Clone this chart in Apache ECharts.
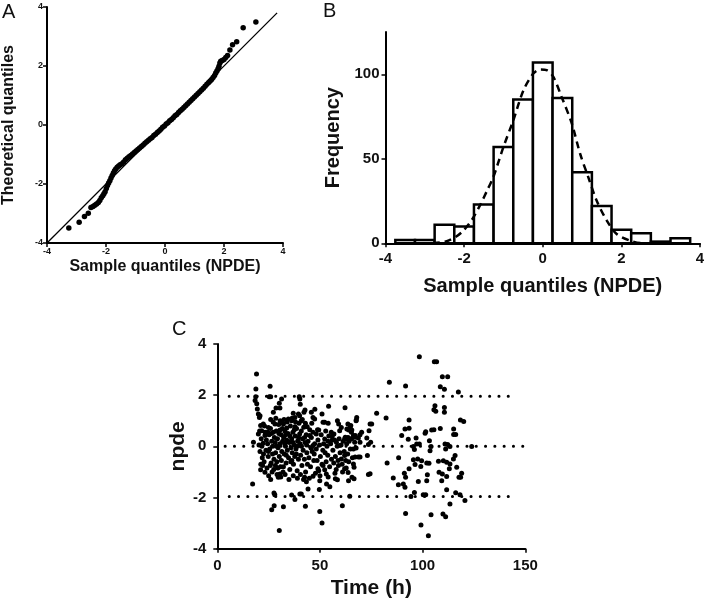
<!DOCTYPE html>
<html><head><meta charset="utf-8">
<script src="https://cdn.jsdelivr.net/npm/echarts@6/dist/echarts.min.js"></script>
<style>html,body{margin:0;padding:0;background:#fff}#c{width:709px;height:602px}</style>
</head><body><div id="c"></div>
<script>
// ---- Panel A: QQ plot (sample quantile, theoretical quantile) ----
const qqPoints = [
[-3.26,-3.49],[-2.91,-3.30],[-2.73,-3.10],[-2.60,-2.99],[-2.51,-2.80],[-2.44,-2.76],[-2.38,-2.72],[-2.32,-2.68],[-2.26,-2.63],[-2.21,-2.56],[-2.16,-2.47],[-2.11,-2.40],[-2.07,-2.33],[-2.03,-2.26],[-1.99,-2.15],[-1.95,-2.05],[-1.91,-1.97],[-1.87,-1.89],[-1.83,-1.80],[-1.79,-1.71],[-1.75,-1.63],[-1.71,-1.55],[-1.67,-1.49],[-1.62,-1.43],[-1.57,-1.39],[-1.52,-1.35],[-1.46,-1.31],[-1.40,-1.25],[-1.34,-1.18],[-1.28,-1.13],[-1.22,-1.08],[-1.16,-1.03],[-1.10,-0.98],[-1.04,-0.93],[-0.98,-0.88],[-0.92,-0.83],[-0.86,-0.78],[-0.80,-0.73],[-0.74,-0.68],[-0.68,-0.62],[-0.62,-0.57],[-0.56,-0.52],[-0.50,-0.47],[-0.44,-0.42],[-0.38,-0.36],[-0.32,-0.31],[-0.26,-0.25],[-0.20,-0.20],[-0.14,-0.14],[-0.08,-0.08],[-0.02,-0.03],[0.04,0.03],[0.10,0.08],[0.16,0.14],[0.22,0.19],[0.28,0.25],[0.34,0.31],[0.40,0.36],[0.46,0.42],[0.52,0.48],[0.58,0.53],[0.64,0.59],[0.70,0.65],[0.76,0.71],[0.82,0.77],[0.88,0.83],[0.94,0.89],[1.00,0.95],[1.06,1.01],[1.12,1.07],[1.18,1.13],[1.24,1.19],[1.30,1.25],[1.36,1.31],[1.42,1.38],[1.48,1.44],[1.53,1.49],[1.58,1.54],[1.63,1.61],[1.68,1.68],[1.72,1.76],[1.76,1.83],[1.80,1.91],[1.83,1.99],[1.86,2.10],[1.89,2.16],[1.94,2.19],[2.00,2.22],[2.06,2.29],[2.12,2.36],[2.20,2.54],[2.29,2.72],[2.43,2.82],[2.65,3.30],[3.08,3.49]
];
const qqLineX = [-4, 3.8];
const qqLineY = [-4, 3.8];

// ---- Panel B: histogram ----
const binCenters = [-3.5,-3,-2.5,-2,-1.5,-1,-0.5,0,0.5,1,1.5,2,2.5,3,3.5];
const binCounts  = [2,2,11,10,23,57,85,107,86,42,22,8,6,1,3];
const binWidth = 0.5;
const curveX = [-2.8,-2.6,-2.44,-2.2,-2.02,-1.8,-1.6,-1.4,-1.26,-1.0,-0.75,-0.49,-0.24,-0.07,0.10,0.27,0.48,0.74,0.95,1.16,1.37,1.63,1.88,2.22,2.56,2.8];
const curveY = [0,0.5,1.2,4,7.5,14,22.3,32,39,57,72.7,90.5,100.4,102.8,102.4,98.4,86.6,70.8,53,39,25.3,13.4,5.5,1.6,0,0];

// ---- Panel C: npde vs time ----
const npdePoints = [
[17.2,-1.47],[19.1,2.83],[18.8,2.24],[25.7,2.35],[18.7,1.94],[25.3,1.94],[26.0,1.94],[18.4,1.79],[19.2,1.66],[19.5,1.46],[20.0,1.26],[20.5,1.13],[27.3,1.33],[28.6,1.50],[30.2,1.68],[30.5,1.50],[31.3,1.85],[37.0,1.29],[37.8,1.13],[39.5,1.26],[39.9,1.94],[40.2,1.85],[40.4,1.65],[40.1,1.20],[42.2,1.33],[42.7,1.42],[45.8,1.33],[47.5,1.45],[51.0,1.26],[54.2,1.57],[62.2,1.51],
[27.6,-1.82],[28.0,-1.89],[36.2,-1.90],[37.8,-2.08],[40.2,-1.86],[40.9,-1.86],[27.7,-2.32],[26.5,-2.48],[32.2,-2.36],[42.9,-2.34],[49.9,-2.55],[51.0,-3.0],[30.2,-3.29],[60.9,-2.32],[64.5,-1.95],[54.8,-1.58],[44.2,-1.67],[49.7,-1.69],[53.2,-1.47],[49.9,-1.34],[58.5,-1.31],[57.5,-1.27],[65.6,-1.21],[66.6,-1.27],[42.5,-1.21],[43.4,-1.38],[46.6,-1.17],[63.7,-1.02],[62.0,-0.88],[53.1,-1.08],[52.3,-0.91],[49.0,-0.88],[51.5,-0.75],[60.4,-0.49],[62.0,-0.36],[21.1,-0.91],[23.2,-1.01],[22.1,-0.75],[26.0,-1.30],[29.7,-1.21],[30.5,-1.08],[63.9,-1.34],
[73.9,0.61],[72.8,0.33],[73.6,0.07],[74.7,0.16],[69.5,0.16],[73.1,-0.36],[74.4,-1.07],[73.6,-1.10],[69.5,-0.42],[67.9,1.13],[67.6,1.00],[66.3,0.42],[67.1,0.36],[64.7,0.74],[63.1,0.68],[65.5,0.64],[62.3,0.36],[63.9,0.33],[63.1,0.29],[68.7,0.33],[69.5,0.45],[66.3,-0.10],[67.6,-0.06],[67.1,-0.42],[68.7,-0.42],[66.3,-0.69],[66.6,-0.82],[70.3,0.55],[74.4,0.87],[75.2,0.87],[77.6,1.29],[82.2,1.11],
[58.5,1.00],[59.1,0.87],[63.6,0.87],[65.0,0.81],[67.7,1.03],[60.4,0.74],[59.6,0.61],[55.5,0.55],[56.8,0.48],[64.0,0.64],[65.3,0.55],[43.8,0.77],[40.9,1.00],[49.4,0.64],[48.2,0.48],[42.5,0.35],[45.0,0.42],[52.3,0.29],[53.9,0.20],[62.0,0.29],[63.6,0.35],[67.2,0.42],[40.1,0.48],[39.3,0.22],[58.0,0.16],[59.6,0.03],[66.9,0.16],[46.6,0.03],[45.8,-0.06],[47.4,1.07],[46.6,1.13],[52.3,0.94],[51.5,0.94],[54.0,0.90],
[20.8,1.20],[34.6,1.07],[36.2,1.00],[32.2,0.87],[28.1,0.87],[22.4,0.87],[21.1,0.81],[24.9,0.74],[21.6,0.61],[27.3,0.55],[30.5,0.64],[33.8,0.72],[37.8,0.77],[20.0,0.48],[23.2,0.42],[17.6,0.16],
[20.3,0.05],[20.8,-0.2],[21.4,0.3],[21.9,-0.45],[22.3,0.12],[22.8,-0.6],[23.3,0.55],[23.7,-0.15],[21.2,-0.7],[22.5,-0.3],[23.9,0.25],[20.6,0.6],[24.2,-0.85],[23.0,0.8],[21.7,0.0],
[24.5,0.1],[24.8,-0.4],[25.2,0.45],[25.5,-0.1],[25.9,0.7],[26.2,-0.65],[26.5,0.2],[26.9,-0.3],[27.2,0.95],[27.5,-0.9],[27.8,0.35],[25.0,-1.15],[26.0,1.05],[26.7,-1.0],[27.0,0.0],[24.6,0.55],[25.8,-0.75],[27.6,-0.5],[26.3,0.5],[24.9,-0.2],
[28.2,0.15],[28.4,-0.25],[28.7,0.6],[29.0,-0.6],[29.3,0.3],[29.6,-0.05],[29.9,0.85],[30.2,-0.4],[30.5,0.1],[30.8,-0.8],[31.1,0.45],[31.4,-0.2],[31.7,0.7],[32.0,-1.0],[28.5,1.1],[29.1,-1.1],[30.0,0.5],[31.2,-0.55],[28.9,0.0],[30.6,1.0],[31.8,0.2],[29.5,-0.85],[30.9,-1.2],[28.3,-0.75],[31.5,0.95],
[32.3,0.35],[32.6,-0.3],[32.9,0.6],[33.2,0.0],[33.5,-0.65],[33.8,0.25],[34.1,-0.15],[34.4,0.5],[34.7,-0.45],[35.0,0.15],[35.3,-0.9],[35.6,0.8],[35.9,-0.05],[32.5,1.05],[33.0,-1.1],[34.0,0.95],[34.9,-1.3],[35.4,0.4],[33.6,-0.35],[32.8,0.1],[35.8,-0.6],[34.3,0.2],[33.3,0.45],[32.2,-0.8],
[36.2,0.3],[36.5,-0.25],[36.8,0.55],[37.1,-0.7],[37.4,0.05],[37.7,-0.4],[38.0,0.4],[38.3,-0.1],[38.6,0.7],[38.9,-0.95],[39.2,0.2],[39.5,-0.5],[39.8,0.9],[36.4,1.1],[37.0,-1.15],[38.1,0.95],[39.0,-1.25],[36.9,0.15],[38.5,-0.3],[39.6,0.35],[37.5,0.65],[36.3,-0.55],[38.8,0.0],
[40.3,0.1],[40.6,-0.35],[40.9,0.6],[41.2,-0.75],[41.5,0.3],[41.8,-0.15],[42.1,0.75],[42.4,-0.5],[42.7,0.15],[43.0,-1.0],[43.3,0.45],[43.6,-0.25],[40.5,-1.1],[41.4,1.05],[42.9,0.9],[43.9,-0.7],[41.0,0.0],[42.0,-1.3],[43.5,0.05],
[44.2,0.2],[44.6,-0.45],[45.0,0.65],[45.4,-0.8],[45.8,0.35],[46.2,-0.2],[46.6,0.55],[47.0,-0.55],[47.4,0.1],[47.8,-1.05],[44.8,-1.25],[46.0,0.9],[47.2,-0.3],[45.6,-0.05],
[48.2,-0.1],[48.6,-0.55],[49.0,0.25],[49.4,-0.95],[49.8,0.05],[50.2,-0.4],[50.6,0.45],[51.0,-0.7],[51.4,-0.15],[51.8,0.1],[50.0,-1.15],[48.8,0.65],
[52.5,-0.25],[53.0,-0.6],[53.4,0.0],[53.8,-0.35],[54.3,0.4],[54.7,-0.8],[55.2,0.1],[55.6,-0.5],[52.8,0.6],[54.0,-1.2],[55.9,0.25],
[56.3,-0.15],[56.7,-0.65],[57.1,0.25],[57.5,-0.4],[57.9,-0.9],[58.4,0.0],[58.8,-0.55],[59.3,0.3],[59.8,-0.25],[57.3,-1.05],[56.0,0.4],[59.0,-0.75],
[60.3,0.05],[60.8,-0.7],[61.3,0.2],[61.8,-0.2],[62.5,-0.55],[63.0,0.1],[63.5,-0.3],[64.2,0.2],[64.8,-0.1],[65.4,0.3],[61.0,-1.0],[62.8,-0.85],[64.0,-0.6],[65.8,-0.45],
[98.4,3.50],[105.7,3.31],[106.8,3.31],[83.8,2.51],[91.7,2.36],[109.6,2.72],[112.2,2.72],[108.6,2.33],[110.6,2.23],[117.4,2.12],[106.0,1.59],[105.5,1.43],[106.4,1.37],[110.6,1.52],[110.6,1.33],[93.4,1.03],[118.4,1.03],[120.0,0.97],[91.4,0.68],[93.4,0.71],[101.5,0.57],[101.2,0.51],[104.4,0.64],[105.5,0.65],[108.6,0.70],[115.1,0.68],[89.8,0.42],[93.0,0.28],[96.8,0.33],[103.3,0.22],[115.1,0.46],[116.1,0.46],[97.1,0.09],[98.4,0.09],[95.5,-0.01],[96.0,-0.12],[104.1,-0.01],[103.6,-0.17],[110.9,0.09],[112.2,0.07],[113.3,-0.01],[111.2,-0.10],[123.9,-0.01],[88.3,-0.45],[82.7,-0.65],[95.5,-0.52],[97.6,-0.49],[99.5,-0.56],[102.0,-0.65],[103.1,-0.66],[96.3,-0.71],[99.1,-0.79],[107.7,-0.58],[110.1,-0.56],[111.7,-0.62],[113.3,-0.69],[115.8,-0.36],[115.0,-0.49],[93.4,-0.88],[91.1,-1.05],[91.7,-1.21],[85.7,-1.24],[88.2,-1.50],[90.6,-1.47],[91.4,-1.60],[97.9,-1.37],[102.3,-1.11],[102.0,-1.34],[108.0,-1.01],[109.6,-1.08],[109.3,-1.34],[111.7,-1.18],[113.0,-0.88],[116.6,-0.82],[119.0,-1.05],[117.7,-1.21],[118.5,-1.21],
[96.0,-1.80],[94.3,-1.96],[100.3,-1.89],[101.5,-1.89],[111.7,-1.70],[116.1,-1.81],[118.2,-1.89],[113.3,-2.25],[120.6,-2.12],[91.7,-2.62],[104.1,-2.67],[109.9,-2.64],[111.2,-2.75],[99.2,-3.07],[102.8,-3.49]
];
const refLevels = [1.96, 0, -1.96];
const refStart  = [5.8, 3.8, 5.8];
const refEnd    = [144, 150, 146];

// ---- Ticks ----
const ticksA = [-4,-2,0,2,4];
const ticksBx = [-4,-2,0,2,4];
const ticksBy = [0,50,100];
const ticksCx = [0,50,100,150];
const ticksCy = [-4,-2,0,2,4];

const F = '"Liberation Sans", Arial, Helvetica, sans-serif';
function axis(opts, fs, margin, nameFs, ticks) {
  return Object.assign({
    type: 'value',
    axisLine: {show: true, onZero: false, lineStyle: {color: '#000', width: 2}},
    axisTick: {show: true, length: 4, lineStyle: {color: '#000', width: 1.5}, customValues: ticks},
    axisLabel: {fontSize: fs, fontWeight: 'bold', color: '#111', margin: margin, fontFamily: F, customValues: ticks},
    splitLine: {show: false},
    nameLocation: 'middle',
    nameTextStyle: {fontSize: nameFs, fontWeight: 'bold', color: '#111', fontFamily: F}
  }, opts);
}

const chart = echarts.init(document.getElementById('c'), null, {renderer: 'canvas'});
const series = [
  {type: 'line', xAxisIndex: 0, yAxisIndex: 0, data: qqLineX.map((x, i) => [x, qqLineY[i]]), symbol: 'none',
   lineStyle: {color: '#000', width: 1.3}, silent: true, z: 1},
  {type: 'scatter', xAxisIndex: 0, yAxisIndex: 0, data: qqPoints, symbolSize: 5.5,
   itemStyle: {color: '#000', opacity: 1}, z: 2},
  {type: 'custom', xAxisIndex: 1, yAxisIndex: 1, data: binCenters.map((c, i) => [c, binCounts[i]]),
   encode: {x: 0, y: 1},
   renderItem: function (params, api) {
     const c = api.value(0), h = api.value(1);
     const p0 = api.coord([c - binWidth / 2, h]);
     const p1 = api.coord([c + binWidth / 2, 0]);
     return {type: 'rect', shape: {x: p0[0], y: p0[1], width: p1[0] - p0[0], height: p1[1] - p0[1]},
       style: {fill: '#fff', stroke: '#000', lineWidth: 2.5}};
   }, z: 1},
  {type: 'line', xAxisIndex: 1, yAxisIndex: 1, data: curveX.map((x, i) => [x, curveY[i]]), symbol: 'none',
   smooth: 0.3, lineStyle: {color: '#000', width: 2.5, type: [7, 5]}, z: 3}
];
refLevels.forEach((lv, i) => {
  series.push({type: 'line', xAxisIndex: 2, yAxisIndex: 2, data: [[refStart[i], lv], [refEnd[i], lv]], symbol: 'none',
    lineStyle: {color: '#000', width: 3, type: [0.1, 9.2], cap: 'round'}, silent: true, z: 1});
});
series.push({type: 'scatter', xAxisIndex: 2, yAxisIndex: 2, data: npdePoints, symbolSize: 5,
  itemStyle: {color: '#000', opacity: 1}, z: 2});

chart.setOption({
  animation: false,
  backgroundColor: '#fff',
  title: [
    {text: 'A', left: 2, top: 2, padding: 0, textStyle: {fontSize: 20, fontWeight: 'normal', color: '#111', fontFamily: F}},
    {text: 'B', left: 323, top: 1, padding: 0, textStyle: {fontSize: 20, fontWeight: 'normal', color: '#111', fontFamily: F}},
    {text: 'C', left: 172, top: 319, padding: 0, textStyle: {fontSize: 20, fontWeight: 'normal', color: '#111', fontFamily: F}}
  ],
  grid: [
    {left: 47, top: 7, width: 236, height: 236, outerBoundsMode: 'none', containLabel: false},
    {left: 385.5, top: 32, width: 314.5, height: 211.3, outerBoundsMode: 'none', containLabel: false},
    {left: 217.3, top: 344, width: 308, height: 204.7, outerBoundsMode: 'none', containLabel: false}
  ],
  xAxis: [
    axis({gridIndex: 0, min: -4, max: 4, interval: 2, name: 'Sample quantiles (NPDE)', nameGap: 16}, 9, 4, 16, ticksA),
    axis({gridIndex: 1, min: -4, max: 4, interval: 2, name: 'Sample quantiles (NPDE)', nameGap: 33}, 15, 8, 20, ticksBx),
    axis({gridIndex: 2, min: 0, max: 150, interval: 50, name: 'Time (h)', nameGap: 29}, 15, 10, 21, ticksCx)
  ],
  yAxis: [
    axis({gridIndex: 0, min: -4, max: 4, interval: 2, name: 'Theoretical quantiles', nameGap: 30, nameRotate: 90}, 9, 4, 16, ticksA),
    axis({gridIndex: 1, min: 0, max: 125, interval: 50, name: 'Frequency', nameGap: 42, nameRotate: 90}, 15, 6, 20, ticksBy),
    axis({gridIndex: 2, min: -4, max: 4, interval: 2, name: 'npde', nameGap: 29, nameRotate: 90}, 15, 11, 21, ticksCy)
  ],
  series: series
});
</script></body></html>
